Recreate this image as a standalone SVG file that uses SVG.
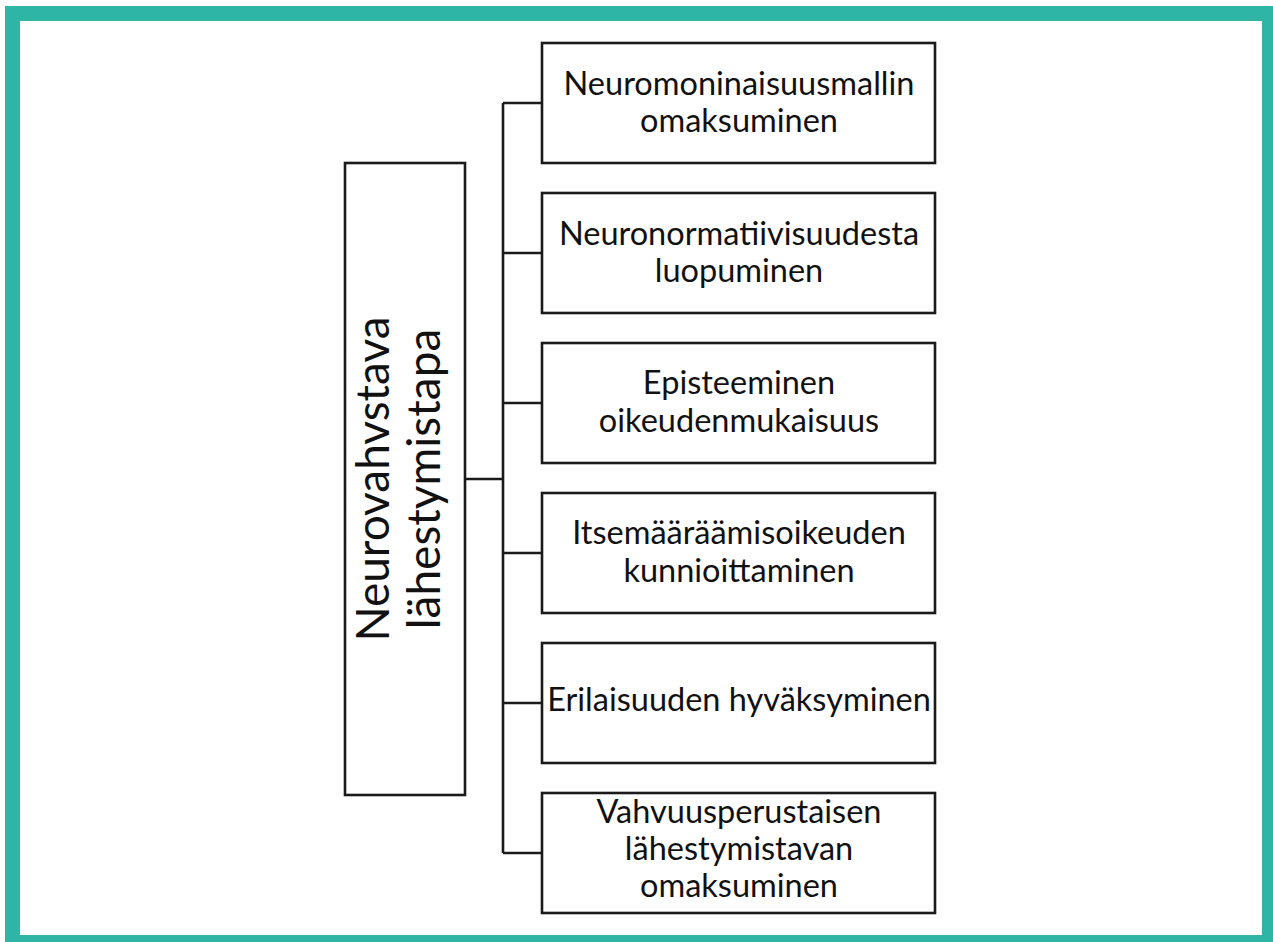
<svg xmlns="http://www.w3.org/2000/svg" width="1273" height="942" viewBox="0 0 1273 942">
<style>
.box{fill:#ffffff;stroke:#1a1a1a;stroke-width:2.6}
.con{fill:none;stroke:#1a1a1a;stroke-width:2.6}
.t{font-family:Lato,"Open Sans","Liberation Sans",sans-serif;font-size:32.5px;fill:#111111;text-anchor:middle}
.v{font-family:Lato,"Open Sans","Liberation Sans",sans-serif;font-size:46px;fill:#111111;text-anchor:middle}
</style>
<rect x="5" y="6" width="1268" height="936" fill="#2eb5a5"/>
<rect x="20" y="21" width="1242" height="914" fill="#ffffff"/>
<g id="connectors">
<line class="con" x1="465" y1="479" x2="503" y2="479"/>
<line class="con" x1="503" y1="103" x2="503" y2="853"/>
<line class="con" x1="503" y1="103" x2="542" y2="103"/>
<line class="con" x1="503" y1="253" x2="542" y2="253"/>
<line class="con" x1="503" y1="403" x2="542" y2="403"/>
<line class="con" x1="503" y1="553" x2="542" y2="553"/>
<line class="con" x1="503" y1="703" x2="542" y2="703"/>
<line class="con" x1="503" y1="853" x2="542" y2="853"/>
</g>
<g id="main">
<rect class="box" x="345" y="163" width="120" height="632"/>
<g transform="translate(389,479) rotate(-90)"><text class="v" x="0" y="0">Neurovahvstava</text></g>
<g transform="translate(440,479) rotate(-90)"><text class="v" x="0" y="0">lähestymistapa</text></g>
</g>
<g id="n1">
<rect class="box" x="542" y="43" width="393" height="120"/>
<text class="t" x="739" y="95">Neuromoninaisuusmallin</text>
<text class="t" x="739" y="132">omaksuminen</text>
</g>
<g id="n2">
<rect class="box" x="542" y="193" width="393" height="120"/>
<text class="t" x="739" y="245">Neuronormatiivisuudesta</text>
<text class="t" x="739" y="282">luopuminen</text>
</g>
<g id="n3">
<rect class="box" x="542" y="343" width="393" height="120"/>
<text class="t" x="739" y="394">Episteeminen</text>
<text class="t" x="739" y="432">oikeudenmukaisuus</text>
</g>
<g id="n4">
<rect class="box" x="542" y="493" width="393" height="120"/>
<text class="t" x="739" y="544">Itsemääräämisoikeuden</text>
<text class="t" x="739" y="582">kunnioittaminen</text>
</g>
<g id="n5">
<rect class="box" x="542" y="643" width="393" height="120"/>
<text class="t" x="739" y="711">Erilaisuuden hyväksyminen</text>
</g>
<g id="n6">
<rect class="box" x="542" y="793" width="393" height="120"/>
<text class="t" x="739" y="823">Vahvuusperustaisen</text>
<text class="t" x="739" y="860">lähestymistavan</text>
<text class="t" x="739" y="897">omaksuminen</text>
</g>
</svg>
